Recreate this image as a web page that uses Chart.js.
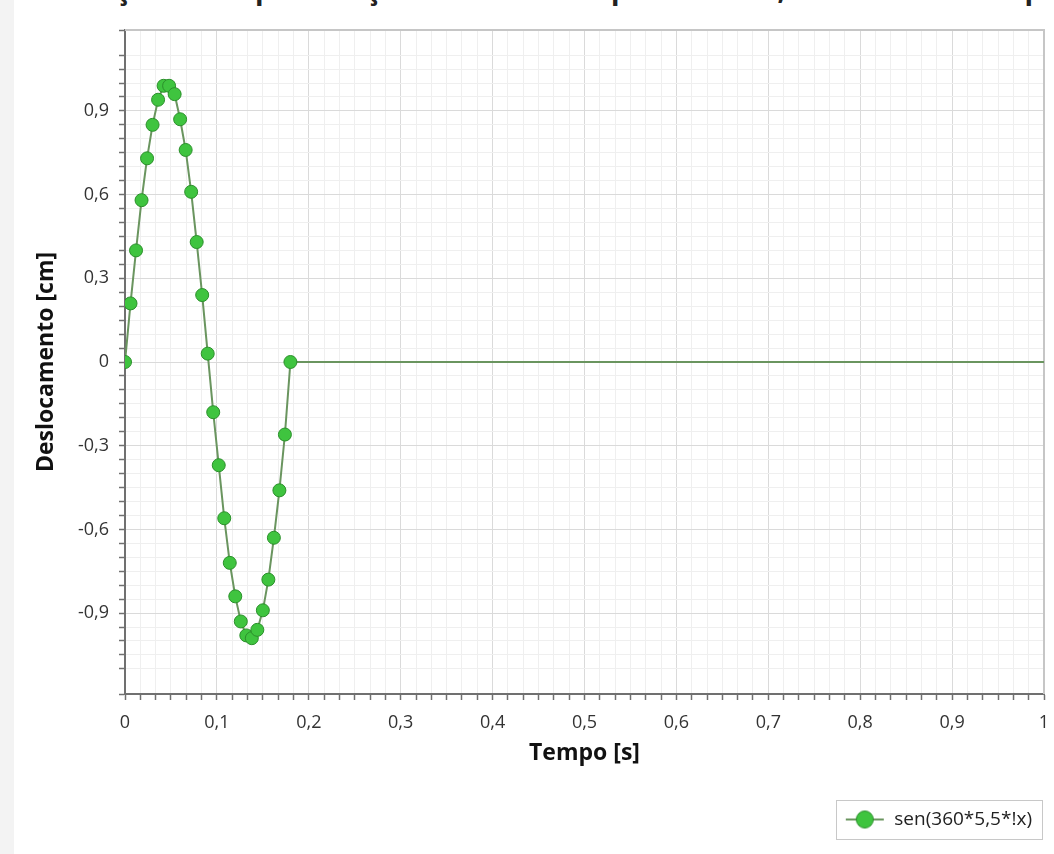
<!DOCTYPE html>
<html lang="pt-BR">
<head>
<meta charset="utf-8">
<title>Deslocamento x Tempo</title>
<script src="https://cdn.jsdelivr.net/npm/chart.js@4.4.1/dist/chart.umd.min.js"></script>
<style>
  html, body { margin: 0; padding: 0; }
  body {
    width: 1054px; height: 854px; overflow: hidden; position: relative;
    background: linear-gradient(to right, #f3f3f3 0, #f3f3f3 14px, #fff 14px);
    font-family: "Open Sans", sans-serif;
  }
  #titulo {
    position: absolute; left: 58px; top: -31px; margin: 0;
    font: bold 28px "Open Sans", sans-serif; white-space: nowrap; color: #222;
  }
  #wrap { position: absolute; left: 0; top: 0; width: 1054px; height: 854px; }
</style>
</head>
<body>
<h1 id="titulo">Posição x Tempo - Função seno com frequência de 5,5 Hz durante um período</h1>
<div id="wrap"><canvas id="grafico"></canvas></div>
<script>
/* ---------- dados ---------- */
const tempo = [0, 0.006, 0.012, 0.018, 0.024, 0.03, 0.036, 0.042, 0.048, 0.054,
               0.06, 0.066, 0.072, 0.078, 0.084, 0.09, 0.096, 0.102, 0.108, 0.114,
               0.12, 0.126, 0.132, 0.138, 0.144, 0.15, 0.156, 0.162, 0.168, 0.174,
               0.18, 1];
const deslocamento = [0, 0.21, 0.40, 0.58, 0.73, 0.85, 0.94, 0.99, 0.99, 0.96,
                      0.87, 0.76, 0.61, 0.43, 0.24, 0.03, -0.18, -0.37, -0.56, -0.72,
                      -0.84, -0.93, -0.98, -0.99, -0.96, -0.89, -0.78, -0.63, -0.46, -0.26,
                      0, 0];

// ticks principais e rótulos
const ticksX   = [0, 0.1, 0.2, 0.3, 0.4, 0.5, 0.6, 0.7, 0.8, 0.9, 1];
const rotulosX = ['0','0,1','0,2','0,3','0,4','0,5','0,6','0,7','0,8','0,9','1'];
const ticksY   = [-0.9, -0.6, -0.3, 0, 0.3, 0.6, 0.9];
const rotulosY = ['-0,9','-0,6','-0,3','0','0,3','0,6','0,9'];

const X_MIN = 0, X_MAX = 1, Y_MIN = -1.19, Y_MAX = 1.19;
const FONTE = '"Open Sans", "Noto Sans", sans-serif';

const COR_LINHA = '#6a955f';
const COR_PONTO = '#3fc43f';
const COR_BORDA_PONTO = '#2b8f2b';

/* ---------- util ---------- */
const achar = (lista, v) => lista.findIndex(t => Math.abs(t - v) < 1e-6);
const corGrade = (v, principais, max) => {
  if (Math.abs(v - max) < 1e-6) return 'rgba(0,0,0,0)';
  return achar(principais, v) >= 0 ? '#dadada' : '#efefef';
};

// marcador da legenda: linha + bolinha
const marcador = (function(){
  const c = document.createElement('canvas');
  c.width = 40; c.height = 22;
  const g = c.getContext('2d');
  g.strokeStyle = COR_LINHA; g.lineWidth = 2;
  g.beginPath(); g.moveTo(1, 11); g.lineTo(39, 11); g.stroke();
  g.fillStyle = COR_PONTO; g.strokeStyle = COR_BORDA_PONTO; g.lineWidth = 1;
  g.beginPath(); g.arc(20, 11, 8.5, 0, Math.PI * 2); g.fill(); g.stroke();
  return c;
})();

// moldura superior/direita e caixa da legenda
const moldura = {
  id: 'moldura',
  beforeDatasetsDraw(chart){
    const {ctx, chartArea: a} = chart;
    ctx.save();
    ctx.strokeStyle = '#c6c6c6'; ctx.lineWidth = 2;
    ctx.beginPath();
    ctx.moveTo(a.left, a.top); ctx.lineTo(a.right, a.top); ctx.lineTo(a.right, a.bottom);
    ctx.stroke();
    ctx.restore();
  },
  afterDraw(chart){
    const hb = chart.legend && chart.legend.legendHitBoxes && chart.legend.legendHitBoxes[0];
    if(!hb) return;
    const ctx = chart.ctx;
    ctx.save();
    ctx.strokeStyle = '#c8c8c8'; ctx.lineWidth = 1;
    ctx.strokeRect(Math.round(hb.left - 9) + 0.5, Math.round(hb.top - 10) + 0.5,
                   Math.round(hb.width + 19), Math.round(hb.height + 20));
    ctx.restore();
  }
};

const pontos = tempo.map((t, i) => ({ x: t, y: deslocamento[i] }));
const raio = ctx => ctx.dataIndex === tempo.length - 1 ? 0 : 6.5;

new Chart(document.getElementById('grafico'), {
  type: 'scatter',
  data: {
    datasets: [{
      label: 'sen(360*5,5*!x)',
      data: pontos,
      showLine: true,
      borderColor: COR_LINHA,
      borderWidth: 2,
      backgroundColor: COR_PONTO,
      pointBackgroundColor: COR_PONTO,
      pointBorderColor: COR_BORDA_PONTO,
      pointBorderWidth: 1,
      pointRadius: raio,
      pointHoverRadius: raio,
      tension: 0
    }]
  },
  options: {
    responsive: true,
    maintainAspectRatio: false,
    animation: false,
    layout: { padding: { top: 30, right: 10, bottom: 15, left: 0 } },
    plugins: {
      legend: {
        position: 'bottom',
        align: 'end',
        labels: {
          usePointStyle: true,
          pointStyle: marcador,
          pointStyleWidth: 40,
          padding: 12,
          color: '#222',
          font: { family: FONTE, size: 19 }
        }
      },
      tooltip: { enabled: false }
    },
    scales: {
      x: {
        type: 'linear', min: X_MIN, max: X_MAX,
        afterFit: s => { s.height = 104; s.paddingLeft = 0; s.paddingRight = 0; },
        border: { color: '#707070', width: 2 },
        grid: {
          color: c => corGrade(c.tick.value, ticksX, X_MAX),
          lineWidth: 1, tickLength: 6, tickColor: '#707070', tickWidth: 1.5
        },
        ticks: {
          stepSize: 1/60, autoSkip: false, maxRotation: 0, padding: 12,
          color: '#333', font: { family: FONTE, size: 18 },
          callback: v => { const i = achar(ticksX, v); return i >= 0 ? rotulosX[i] : ''; }
        },
        title: {
          display: true, text: 'Tempo [s]', color: '#111',
          font: { family: FONTE, size: 23, weight: 'bold' },
          padding: { top: 0, bottom: 31 }
        }
      },
      y: {
        min: Y_MIN, max: Y_MAX,
        afterFit: s => { s.width = 125; },
        border: { color: '#707070', width: 2 },
        grid: {
          color: c => corGrade(c.tick.value, ticksY, Y_MAX),
          lineWidth: 1, tickLength: 6, tickColor: '#707070', tickWidth: 1.5
        },
        ticks: {
          stepSize: 0.05, autoSkip: false, padding: 10,
          color: '#333', font: { family: FONTE, size: 18 },
          callback: v => { const i = achar(ticksY, v); return i >= 0 ? rotulosY[i] : ''; }
        },
        title: {
          display: true, text: 'Deslocamento [cm]', color: '#111',
          font: { family: FONTE, size: 23, weight: 'bold' },
          padding: { top: 33, bottom: 0 }
        }
      }
    }
  },
  plugins: [moldura]
});
</script>
</body>
</html>
